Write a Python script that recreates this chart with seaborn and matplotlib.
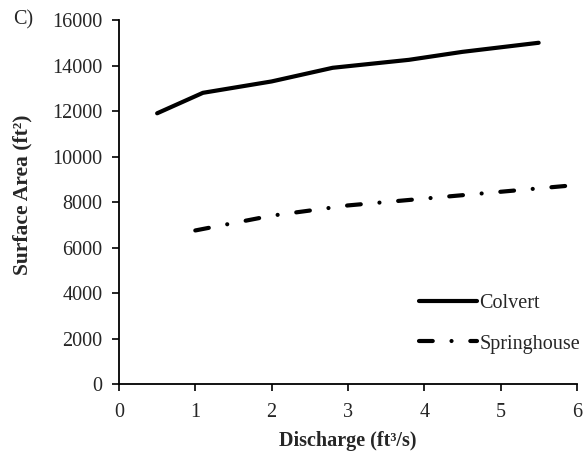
import matplotlib
matplotlib.use("Agg")
import matplotlib.pyplot as plt
import seaborn as sns
import pandas as pd

colvert_q = [0.5, 1.1, 2.0, 2.8, 3.8, 4.5, 5.5]
colvert_area = [11900, 12800, 13300, 13900, 14250, 14600, 15000]
spring_q = [1.0, 2.0, 3.0, 4.0, 5.0, 6.0]
spring_area = [6750, 7400, 7850, 8150, 8450, 8750]
x_ticks = [0, 1, 2, 3, 4, 5, 6]
y_ticks = [0, 2000, 4000, 6000, 8000, 10000, 12000, 14000, 16000]

df = pd.concat([
    pd.DataFrame({"q": colvert_q, "area": colvert_area, "site": "Colvert"}),
    pd.DataFrame({"q": spring_q, "area": spring_area, "site": "Springhouse"}),
])

sns.set_style("white")
plt.rcParams["font.family"] = ["Liberation Serif", "DejaVu Serif"]

FS = 14.5
LW = 3.0

fig = plt.figure(figsize=(5.85, 4.55), dpi=100)
ax = fig.add_axes([0.2034, 0.156, 0.7826, 0.800])

sns.lineplot(data=df, x="q", y="area", hue="site", style="site",
             palette={"Colvert": "black", "Springhouse": "black"},
             dashes={"Colvert": "", "Springhouse": (3.3, 4.5, 0.01, 4.5)},
             linewidth=LW, sort=False, ax=ax)
for ln in ax.lines:
    ln.set_solid_capstyle("round")
    ln.set_dash_capstyle("round")

ax.set_xlim(0, 6)
ax.set_ylim(0, 16000)
ax.set_xticks(x_ticks)
ax.set_yticks(y_ticks)
ax.tick_params(axis="both", direction="out", length=5, width=1.2, color="black",
               labelsize=FS, bottom=True, left=True)
ax.tick_params(axis="x", pad=9)
ax.tick_params(axis="y", pad=7)
for s in ["top", "right"]:
    ax.spines[s].set_visible(False)
for s in ["left", "bottom"]:
    ax.spines[s].set_color("black")
    ax.spines[s].set_linewidth(1.3)

ax.set_xlabel("Discharge (ft³/s)", fontsize=FS, fontweight="bold", labelpad=6)
ax.set_ylabel("Surface Area (ft²)", fontsize=15.5, fontweight="bold")
ax.yaxis.set_label_coords(-0.19, 0.52)

leg = ax.legend(title=None, frameon=False, fontsize=FS, loc="lower right",
                bbox_to_anchor=(1.047, 0.034), handlelength=2.9, handletextpad=0.1,
                labelspacing=1.05)
for h in leg.get_lines():
    h.set_linewidth(LW)
    h.set_dash_capstyle("round")
    h.set_solid_capstyle("round")

fig.text(0.022, 0.956, "C)", fontsize=FS, va="center", ha="left")

fig.savefig("out.png", dpi=100, facecolor="white")
